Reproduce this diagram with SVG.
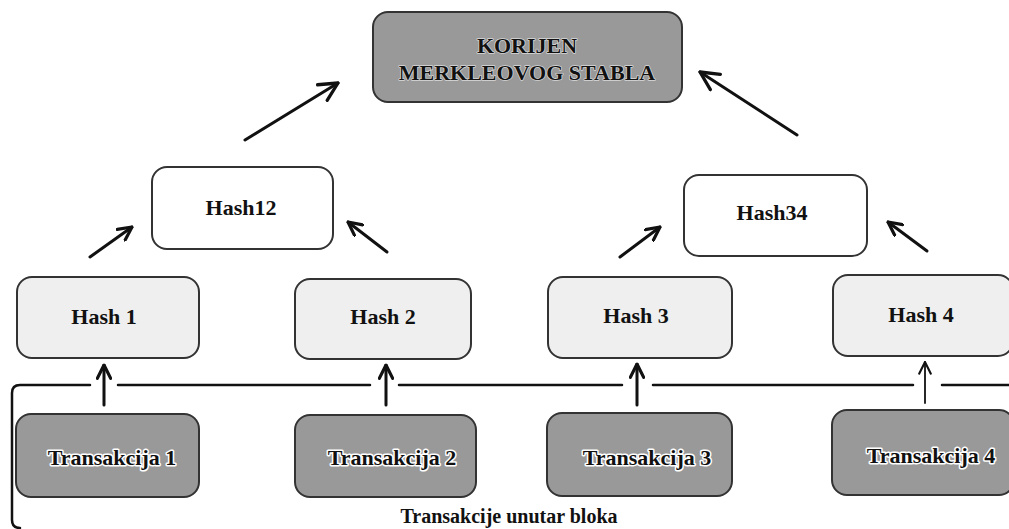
<svg xmlns="http://www.w3.org/2000/svg" width="1009" height="529" viewBox="0 0 1009 529" font-family="'Liberation Serif', 'DejaVu Serif', 'Times New Roman', serif">
<style>
.box{stroke:#333;stroke-width:2}
.dark{fill:#999}
.light{fill:#efefef}
.white{fill:#fff}
text{font-family:'Liberation Serif','DejaVu Serif','Times New Roman',serif;font-weight:bold;fill:#111;text-anchor:middle}
.t{font-size:22px}
.halo{stroke:#fff;stroke-width:3;paint-order:stroke;stroke-linejoin:round}
.halo2{stroke:#d8d8d8;stroke-width:1.5;paint-order:stroke;stroke-linejoin:round}
.conn{stroke:#111;fill:none;stroke-linecap:round}
</style>
<defs>
<marker id="v" viewBox="0 0 12 12" refX="11" refY="6" markerWidth="16" markerHeight="16" markerUnits="userSpaceOnUse" orient="auto">
<path d="M1,1 L11,6 L1,11" fill="none" stroke="#111" stroke-width="2.4" stroke-linecap="round" stroke-linejoin="round"/>
</marker>
<marker id="vbig" viewBox="0 0 12 12" refX="11" refY="6" markerWidth="22" markerHeight="22" markerUnits="userSpaceOnUse" orient="auto">
<path d="M1,1 L11,6 L1,11" fill="none" stroke="#111" stroke-width="1.8" stroke-linecap="round" stroke-linejoin="round"/>
</marker>
<marker id="vs" viewBox="0 0 12 12" refX="11" refY="6" markerWidth="14" markerHeight="14" markerUnits="userSpaceOnUse" orient="auto">
<path d="M1,1 L11,6 L1,11" fill="none" stroke="#111" stroke-width="1.8" stroke-linecap="round" stroke-linejoin="round"/>
</marker>
</defs>

<g id="connectors">
<path class="conn" stroke-width="3" d="M245,140 L338,83" marker-end="url(#vbig)"/>
<path class="conn" stroke-width="3" d="M797,135 L700,72" marker-end="url(#vbig)"/>
<path class="conn" stroke-width="3" d="M90,257 L132,227" marker-end="url(#v)"/>
<path class="conn" stroke-width="3" d="M387,252 L348,222" marker-end="url(#v)"/>
<path class="conn" stroke-width="3" d="M620,257 L660,227" marker-end="url(#v)"/>
<path class="conn" stroke-width="3" d="M927,251 L888,222" marker-end="url(#v)"/>
<path class="conn" stroke-width="3" d="M104,405 L104,365" marker-end="url(#v)"/>
<path class="conn" stroke-width="3" d="M386,405 L386,365" marker-end="url(#v)"/>
<path class="conn" stroke-width="3" d="M637,405 L637,364" marker-end="url(#v)"/>
<path class="conn" stroke-width="1.8" d="M925,403 L925,362" marker-end="url(#vs)"/>
<path class="conn" stroke-width="2.5" d="M90,385 H20 Q12,385 12,393 V520 Q12,528 20,528"/>
<path class="conn" stroke-width="2.5" d="M118,385 H370 M399,385 H622 M653,385 H913 M942,385 H1009"/>
</g>

<g id="root">
<rect class="box dark" x="373" y="12" width="309" height="90" rx="15"/>
<text class="t halo2" x="527" y="53">KORIJEN</text>
<text class="t halo2" x="527" y="80">MERKLEOVOG STABLA</text>
</g>

<g id="hash12">
<rect class="box white" x="152" y="167" width="181" height="82" rx="15"/>
<text class="t" x="241" y="215">Hash12</text>
</g>
<g id="hash34">
<rect class="box white" x="684" y="175" width="183" height="81" rx="15"/>
<text class="t" x="772" y="220">Hash34</text>
</g>

<g id="hash1">
<rect class="box light" x="17" y="277" width="182" height="81" rx="15"/>
<text class="t" x="104" y="324">Hash 1</text>
</g>
<g id="hash2">
<rect class="box light" x="295" y="279" width="176" height="80" rx="15"/>
<text class="t" x="383" y="324">Hash 2</text>
</g>
<g id="hash3">
<rect class="box light" x="548" y="277" width="184" height="81" rx="15"/>
<text class="t" x="636" y="323">Hash 3</text>
</g>
<g id="hash4">
<rect class="box light" x="833" y="275" width="180" height="81" rx="15"/>
<text class="t" x="921" y="322">Hash 4</text>
</g>

<g id="tx1">
<rect class="box dark" x="16" y="414" width="183" height="83" rx="15"/>
<text class="t halo" x="112" y="465">Transakcija 1</text>
</g>
<g id="tx2">
<rect class="box dark" x="295" y="415" width="181" height="82" rx="15"/>
<text class="t halo" x="392" y="465">Transakcija 2</text>
</g>
<g id="tx3">
<rect class="box dark" x="547" y="413" width="185" height="83" rx="15"/>
<text class="t halo" x="647" y="465">Transakcija 3</text>
</g>
<g id="tx4">
<rect class="box dark" x="832" y="410" width="182" height="85" rx="15"/>
<text class="t halo" x="931" y="463">Transakcija 4</text>
</g>

<g id="label">
<text x="509" y="523" font-size="20">Transakcije unutar bloka</text>
</g>
</svg>
